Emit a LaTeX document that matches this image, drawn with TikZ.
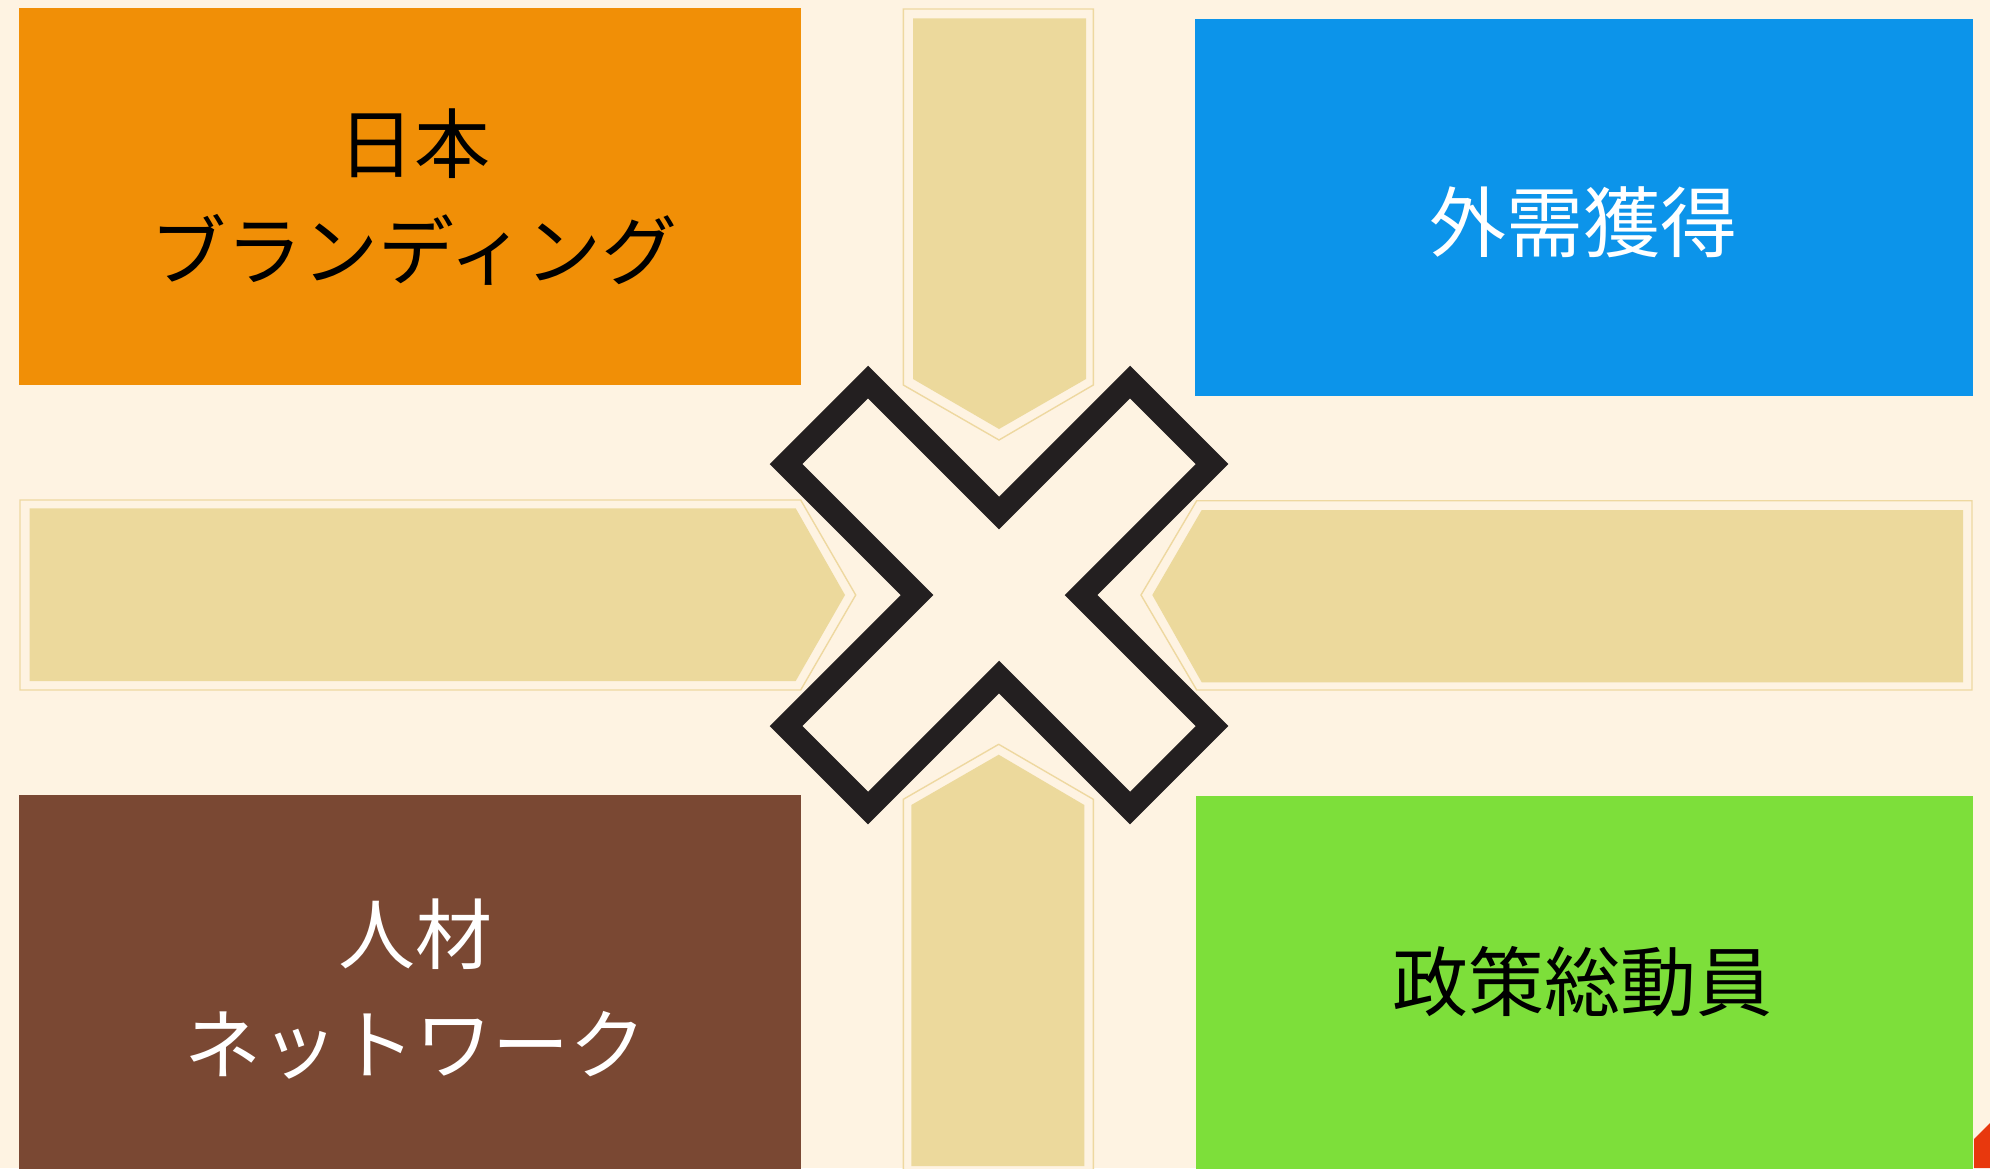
\documentclass[tikz,border=0pt]{standalone}
\usepackage{fontspec}
\newfontfamily\jp{Noto Sans CJK JP}
\definecolor{bgc}{HTML}{FEF3E2}
\definecolor{orangec}{HTML}{F18F06}
\definecolor{bluec}{HTML}{0C94EA}
\definecolor{brownc}{HTML}{7A4833}
\definecolor{greenc}{HTML}{7DDF3A}
\definecolor{arrowfill}{HTML}{ECD99C}
\definecolor{arrowline}{HTML}{EED8A0}
\definecolor{xcol}{HTML}{231F20}
\definecolor{redc}{HTML}{E8380D}
\tikzset{
  box/.style={draw=none, inner sep=0pt, outer sep=0pt, anchor=north west},
  outerarrow/.style={draw=arrowline, line width=1.4pt, fill=bgc, line join=miter},
  innerarrow/.style={fill=arrowfill, draw=none},
  label/.style={font=\jp, align=center, inner sep=0pt},
  xshape/.style={draw=xcol, line width=23pt, fill=bgc, line join=miter, miter limit=10}
}
\begin{document}
\begin{tikzpicture}[x=1pt,y=-1pt]
\useasboundingbox (0,0) rectangle (1990,1168);
\clip (0,0) rectangle (1990,1168);
\fill[bgc] (0,0) rectangle (1990,1168);

% boxes
\node[box, fill=orangec, minimum width=782pt, minimum height=376.5pt] (brand) at (19,8) {};
\node[box, fill=bluec, minimum width=778pt, minimum height=377pt] (demand) at (1195,19) {};
\node[box, fill=brownc, minimum width=782pt, minimum height=390pt] (talent) at (19,795) {};
\node[box, fill=greenc, minimum width=777pt, minimum height=390pt] (policy) at (1196,796) {};

% red corner
\fill[redc] (1974,1139) -- (1990,1123) -- (1990,1168) -- (1974,1168) -- cycle;

% arrows
\draw[outerarrow] (903.3,9) -- (1093.3,9) -- (1093.3,385) -- (999,440) -- (903.3,385) -- cycle;
\fill[innerarrow] (913,18.3) -- (1086,18.3) -- (1086,379) -- (999,429) -- (913,379) -- cycle;

\draw[outerarrow] (903.3,1180) -- (903.3,799.3) -- (998.7,744.3) -- (1093.3,799.3) -- (1093.3,1180);
\fill[innerarrow] (911.3,1166) -- (911.3,805) -- (998.7,754.7) -- (1084.3,805) -- (1084.3,1166) -- cycle;

\draw[outerarrow] (20,500) -- (800.7,500) -- (855.7,595) -- (800.7,690) -- (20,690) -- cycle;
\fill[innerarrow] (29.7,508.3) -- (795.7,508.3) -- (845,595) -- (795.7,681) -- (29.7,681) -- cycle;

\draw[outerarrow] (1972,500.7) -- (1196.7,500.7) -- (1141,595) -- (1196.7,690) -- (1972,690) -- cycle;
\fill[innerarrow] (1963,510) -- (1201.7,510) -- (1152.3,595) -- (1201.7,682.3) -- (1963,682.3) -- cycle;

% X shape
\coordinate (xc) at (999,595);
\draw[xshape] ([shift={(0,-82)}]xc) -- ++(131,-131) -- ++(82,82) -- ++(-131,131)
  -- ++(131,131) -- ++(-82,82) -- ++(-131,-131) -- ++(-131,131) -- ++(-82,-82)
  -- ++(131,-131) -- ++(-131,-131) -- ++(82,-82) -- cycle;

% labels
\node[label, text=black, font=\jp\fontsize{76}{107}\selectfont] (brandtxt) at (414,197) {日本\\ブランディング};
\node[label, text=white, font=\jp\fontsize{77}{90}\selectfont] (demandtxt) at (1583,222) {外需獲得};
\node[label, text=white, font=\jp\fontsize{77}{110}\selectfont] (talenttxt) at (415,989) {人材\\ネットワーク};
\node[label, text=black, font=\jp\fontsize{76}{90}\selectfont] (policytxt) at (1582,982) {政策総動員};
\end{tikzpicture}
\end{document}
